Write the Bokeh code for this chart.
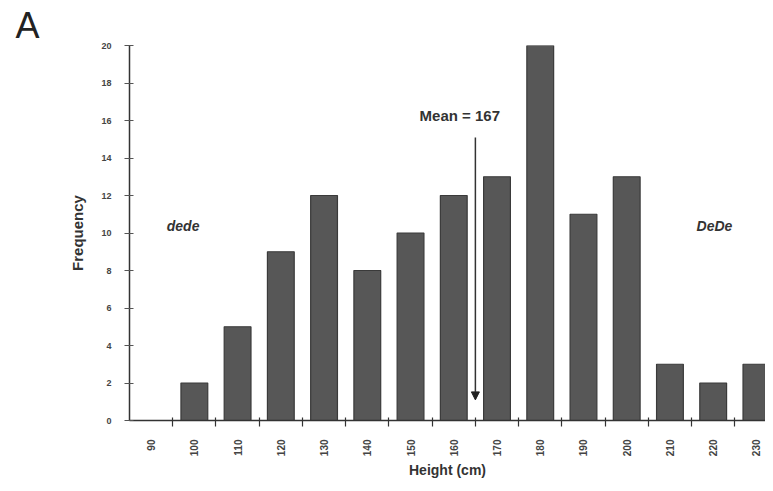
from bokeh.plotting import figure
from bokeh.models import ColumnDataSource, FixedTicker, Label, Arrow, NormalHead, Range1d, Title
from bokeh.embed import file_html
from bokeh.resources import INLINE

# ---- data ----
heights = [90, 100, 110, 120, 130, 140, 150, 160, 170, 180, 190, 200, 210, 220, 230]
freqs = [0, 2, 5, 9, 12, 8, 10, 12, 13, 20, 11, 13, 3, 2, 3]
y_ticks = [0, 2, 4, 6, 8, 10, 12, 14, 16, 18, 20]
bin_edges = [95, 105, 115, 125, 135, 145, 155, 165, 175, 185, 195, 205, 215, 225]
mean_value = 167
arrow_x = 165
left_label = "dede"
right_label = "DeDe"
panel_letter = "A"

FONT = "Liberation Sans"

p = figure(width=765, height=483, output_backend="svg", toolbar_location=None,
           x_range=Range1d(85, 232.1), y_range=Range1d(0, 20),
           min_border_left=129, min_border_right=0, min_border_top=45, min_border_bottom=63)
p.outline_line_color = None
p.xgrid.grid_line_color = None
p.ygrid.grid_line_color = None
p.background_fill_color = "white"

p.add_layout(Title(text=panel_letter, align="left", offset=-114, standoff=0,
                   vertical_align="bottom",
                   text_font=FONT, text_font_size="36px", text_font_style="normal",
                   text_color="#222222"), "above")

src = ColumnDataSource(dict(x=heights, top=freqs))
p.vbar(x="x", top="top", width=6.2, source=src,
       fill_color="#575757", line_color="#3a3a3a", line_width=1.2)

# x axis
xa = p.xaxis[0]
xa.ticker = FixedTicker(ticks=heights, minor_ticks=bin_edges)
xa.major_label_overrides = {h: str(h) for h in heights}
xa.major_tick_line_color = None
xa.minor_tick_in = 3
xa.minor_tick_out = 6
xa.minor_tick_line_color = "#333333"
xa.minor_tick_line_width = 1.2
xa.major_label_orientation = 1.5708
xa.major_label_standoff = 13
xa.major_label_text_font = FONT
xa.major_label_text_font_size = "10px"
xa.major_label_text_color = "#444444"
xa.major_label_text_font_style = "bold"
xa.axis_line_color = "#333333"
xa.axis_line_width = 1.5
xa.axis_label = "Height (cm)"
xa.axis_label_text_font = FONT
xa.axis_label_text_font_size = "14px"
xa.axis_label_text_font_style = "bold"
xa.axis_label_text_color = "#333333"
xa.axis_label_standoff = 3

# y axis
ya = p.yaxis[0]
ya.ticker = FixedTicker(ticks=y_ticks)
ya.minor_tick_line_color = None
ya.major_tick_in = 4
ya.major_tick_out = 5
ya.major_tick_line_color = "#555555"
ya.major_label_standoff = 13
ya.major_label_text_font = FONT
ya.major_label_text_font_size = "9px"
ya.major_label_text_color = "#444444"
ya.major_label_text_font_style = "bold"
ya.axis_line_color = "#333333"
ya.axis_line_width = 1.5
ya.axis_label = "Frequency"
ya.axis_label_text_font = FONT
ya.axis_label_text_font_size = "15px"
ya.axis_label_text_font_style = "bold"
ya.axis_label_text_color = "#333333"
ya.axis_label_standoff = 12

# annotations
p.add_layout(Label(x=161.4, y=16.27, text=f"Mean = {mean_value}", text_font=FONT,
                   text_font_size="15px", text_font_style="bold", text_color="#333333",
                   text_align="center", text_baseline="middle"))
p.add_layout(Arrow(x_start=arrow_x, y_start=15.1, x_end=arrow_x, y_end=1.1,
                   line_color="#333333", line_width=1.5,
                   end=NormalHead(size=8, fill_color="#222222", line_color="#222222")))
p.add_layout(Label(x=97.4, y=10.35, text=left_label, text_font=FONT, text_font_size="14px",
                   text_font_style="bold italic", text_color="#333333",
                   text_align="center", text_baseline="middle"))
p.add_layout(Label(x=220.3, y=10.35, text=right_label, text_font=FONT, text_font_size="14px",
                   text_font_style="bold italic", text_color="#333333",
                   text_align="center", text_baseline="middle"))

open("out.html", "w").write(file_html(p, INLINE))
